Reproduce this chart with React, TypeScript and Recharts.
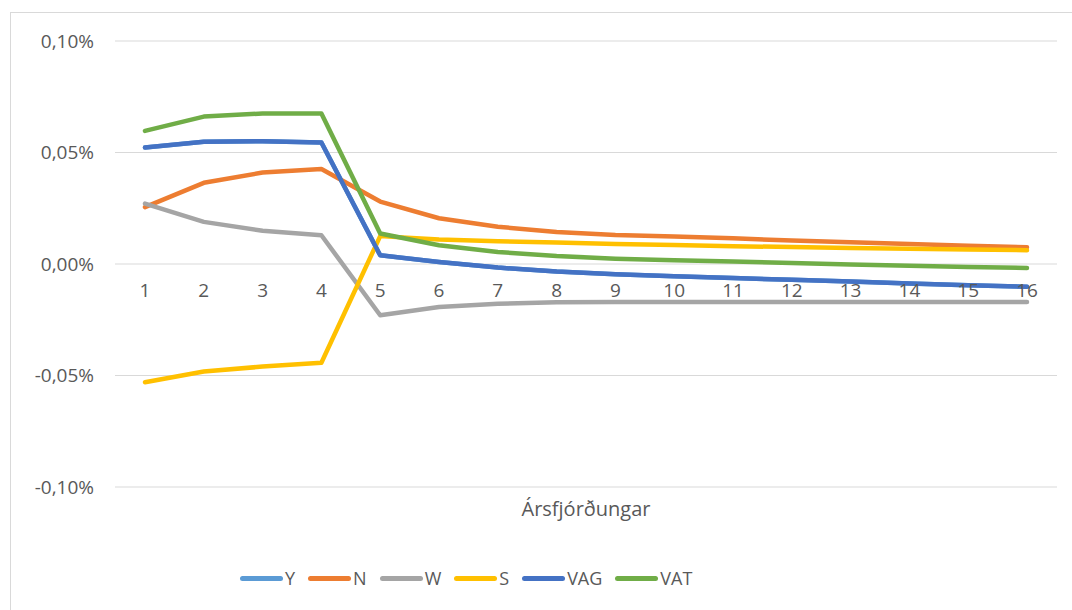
import { LineChart, Line, XAxis, YAxis, CartesianGrid, ReferenceDot } from 'recharts';

const quarters = ['1', '2', '3', '4', '5', '6', '7', '8', '9', '10', '11', '12', '13', '14', '15', '16'];

// values in percent
const vag = [0.0522, 0.0548, 0.0551, 0.0545, 0.0039, 0.0009, -0.0016, -0.0034, -0.0046, -0.0055, -0.0063, -0.0071, -0.0079, -0.0087, -0.0095, -0.0102];
const y = vag; // hidden under VAG in the original
const n = [0.0255, 0.0364, 0.041, 0.0426, 0.028, 0.0205, 0.0167, 0.0144, 0.013, 0.0123, 0.0115, 0.0105, 0.0097, 0.009, 0.0082, 0.0075];
const w = [0.0271, 0.0189, 0.0149, 0.0129, -0.023, -0.0193, -0.0178, -0.0172, -0.017, -0.017, -0.017, -0.017, -0.017, -0.017, -0.017, -0.017];
const s = [-0.053, -0.0482, -0.046, -0.0443, 0.0125, 0.011, 0.0102, 0.0096, 0.009, 0.0085, 0.008, 0.0076, 0.0072, 0.0068, 0.0065, 0.0062];
const vat = [0.0597, 0.0661, 0.0675, 0.0675, 0.0137, 0.0084, 0.0054, 0.0036, 0.0024, 0.0017, 0.0011, 0.0004, -0.0002, -0.0008, -0.0013, -0.0018];

const yTicks = [-0.1, -0.05, 0, 0.05, 0.1];

const series = [
  { key: 'Y', values: y, color: '#5B9BD5' },
  { key: 'N', values: n, color: '#ED7D31' },
  { key: 'W', values: w, color: '#A5A5A5' },
  { key: 'S', values: s, color: '#FFC000' },
  { key: 'VAG', values: vag, color: '#4472C4' },
  { key: 'VAT', values: vat, color: '#70AD47' },
];

const data = quarters.map((q, i) => {
  const row: Record<string, string | number> = { q };
  series.forEach((sr) => {
    row[sr.key] = sr.values[i];
  });
  return row;
});

const font = '"Open Sans", sans-serif';
const textColor = '#595959';

const fmt = (v: number) => v.toFixed(2).replace('.', ',') + '%';

export default function App() {
  return (
    <div style={{ position: 'absolute', left: 0, top: 0, width: 1072, height: 610, background: '#fff', overflow: 'hidden', fontFamily: font }}>
      <div style={{ position: 'absolute', left: 10, top: 12, width: 1100, height: 700, border: '1px solid #d9d9d9' }} />
      <LineChart width={1072} height={610} data={data} margin={{ top: 41, right: 15, left: 0, bottom: 94 }}>
        <CartesianGrid vertical={false} stroke="#d9d9d9" strokeWidth={1} />
        <XAxis
          dataKey="q"
          padding={{ left: 30, right: 30 }}
          tick={false}
          axisLine={false}
          tickLine={false}
          height={29}
          label={{ value: 'Ársfjórðungar', position: 'insideBottom', offset: 0, fill: textColor, fontSize: 20, fontFamily: font }}
        />
        <YAxis
          domain={[-0.1, 0.1]}
          ticks={yTicks}
          tickFormatter={fmt}
          width={115}
          axisLine={false}
          tickLine={false}
          tickSize={0}
          tickMargin={21}
          tick={{ fill: textColor, fontSize: 19, fontFamily: font }}
        />
        {series.map((sr) => (
          <Line
            key={sr.key}
            type="linear"
            dataKey={sr.key}
            stroke={sr.color}
            strokeWidth={4.5}
            strokeLinecap="round"
            strokeLinejoin="round"
            dot={false}
            isAnimationActive={false}
          />
        ))}
        {quarters.map((q) => (
          <ReferenceDot
            key={'lbl' + q}
            x={q}
            y={0}
            r={0}
            fill="none"
            stroke="none"
            label={{ value: q, position: 'bottom', offset: 20, fill: textColor, fontSize: 19, fontFamily: font }}
          />
        ))}
      </LineChart>
      <div style={{ position: 'absolute', left: 240, top: 566, display: 'flex', alignItems: 'center', fontSize: 18, color: textColor, fontFamily: font }}>
        {series.map((sr) => (
          <div key={sr.key} style={{ display: 'flex', alignItems: 'center', marginRight: 13 }}>
            <span style={{ display: 'inline-block', width: 43, height: 5, borderRadius: 3, background: sr.color, marginRight: 2 }} />
            <span>{sr.key}</span>
          </div>
        ))}
      </div>
    </div>
  );
}
